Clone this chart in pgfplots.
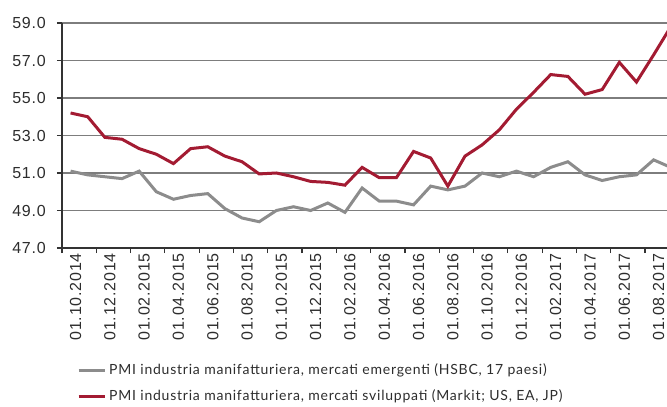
\documentclass[border=0pt]{standalone}
\usepackage{pgfplots}
\pgfplotsset{compat=1.18}
\usepackage{fontspec}
\setmainfont{Liberation Sans}
\newfontfamily\tickfont[LetterSpace=5]{Liberation Sans}
\newfontfamily\legfont[LetterSpace=5.5]{Lato}
\definecolor{redline}{RGB}{163,27,50}
\definecolor{grayline}{RGB}{140,140,140}
\definecolor{gridc}{RGB}{125,125,125}
\definecolor{txt}{RGB}{45,45,45}
\pgfplotstableread{
k emerg dev
0 51.1 54.2
1 50.9 54.0
2 50.8 52.9
3 50.7 52.8
4 51.1 52.3
5 50.0 52.0
6 49.6 51.5
7 49.8 52.3
8 49.9 52.4
9 49.1 51.9
10 48.6 51.6
11 48.4 50.95
12 49.0 51.0
13 49.2 50.8
14 49.0 50.55
15 49.4 50.5
16 48.9 50.35
17 50.2 51.3
18 49.5 50.75
19 49.5 50.75
20 49.3 52.15
21 50.3 51.8
22 50.1 50.3
23 50.3 51.9
24 51.0 52.5
25 50.8 53.3
26 51.1 54.4
27 50.8 55.3
28 51.3 56.25
29 51.6 56.15
30 50.9 55.2
31 50.6 55.45
32 50.8 56.9
33 50.9 55.85
34 51.7 57.3
35 51.3 58.8
}\datatable
\begin{document}
\begin{tikzpicture}[x=1pt,y=1pt]
\useasboundingbox (0,0) rectangle (667,407);
\begin{axis}[
  at={(62pt,159pt)}, anchor=south west,
  scale only axis, width=605pt, height=225pt,
  xmin=-0.5, xmax=34.78, ymin=47, ymax=59,
  axis x line*=bottom, axis y line*=left,
  axis line style={-, line width=1.2pt, color=black!80},
  ytick={47,49,...,59},
  ymajorgrids, grid style={gridc, line width=1.3pt},
  xtick={0,2,...,34},
  xticklabels={01.10.2014,01.12.2014,01.02.2015,01.04.2015,01.06.2015,01.08.2015,01.10.2015,01.12.2015,01.02.2016,01.04.2016,01.06.2016,01.08.2016,01.10.2016,01.12.2016,01.02.2017,01.04.2017,01.06.2017,01.08.2017},
  minor xtick={-0.5,1.5,...,33.5},
  tick align=outside,
  major x tick style={draw=none},
  minor tick length=5pt,
  major tick length=5pt,
  tick style={line width=1.2pt, color=black!80},
  xticklabel style={rotate=90, anchor=east, inner sep=0pt, font=\tickfont\fontsize{16}{18}\selectfont, color=txt, yshift=-5pt},
  yticklabel style={anchor=east, inner sep=0pt, font=\tickfont\fontsize{16}{18}\selectfont, color=txt, xshift=-11pt},
  /pgf/number format/fixed, /pgf/number format/fixed zerofill, /pgf/number format/precision=1, /pgf/number format/assume math mode=true,
  legend style={draw=none, fill=none, at={(0,0)}, anchor=north west, xshift=15pt, yshift=-116pt,
    font=\legfont\fontsize{14}{16}\selectfont, text=txt, row sep=13pt, column sep=3pt, inner sep=0pt,
    nodes={inner sep=0pt, text height=10pt, text depth=3pt}},
  legend cell align=left,
  legend image code/.code={\draw[#1] (0pt,0pt) -- (26pt,0pt);},
]
\addplot[grayline, line width=3pt] table[x=k, y=emerg] {\datatable};
\addlegendentry{PMI industria manifatturiera, mercati emergenti (HSBC, 17 paesi)}
\addplot[redline, line width=3pt] table[x=k, y=dev] {\datatable};
\addlegendentry{PMI industria manifatturiera, mercati sviluppati (Markit; US, EA, JP)}
\end{axis}
\end{tikzpicture}
\end{document}
